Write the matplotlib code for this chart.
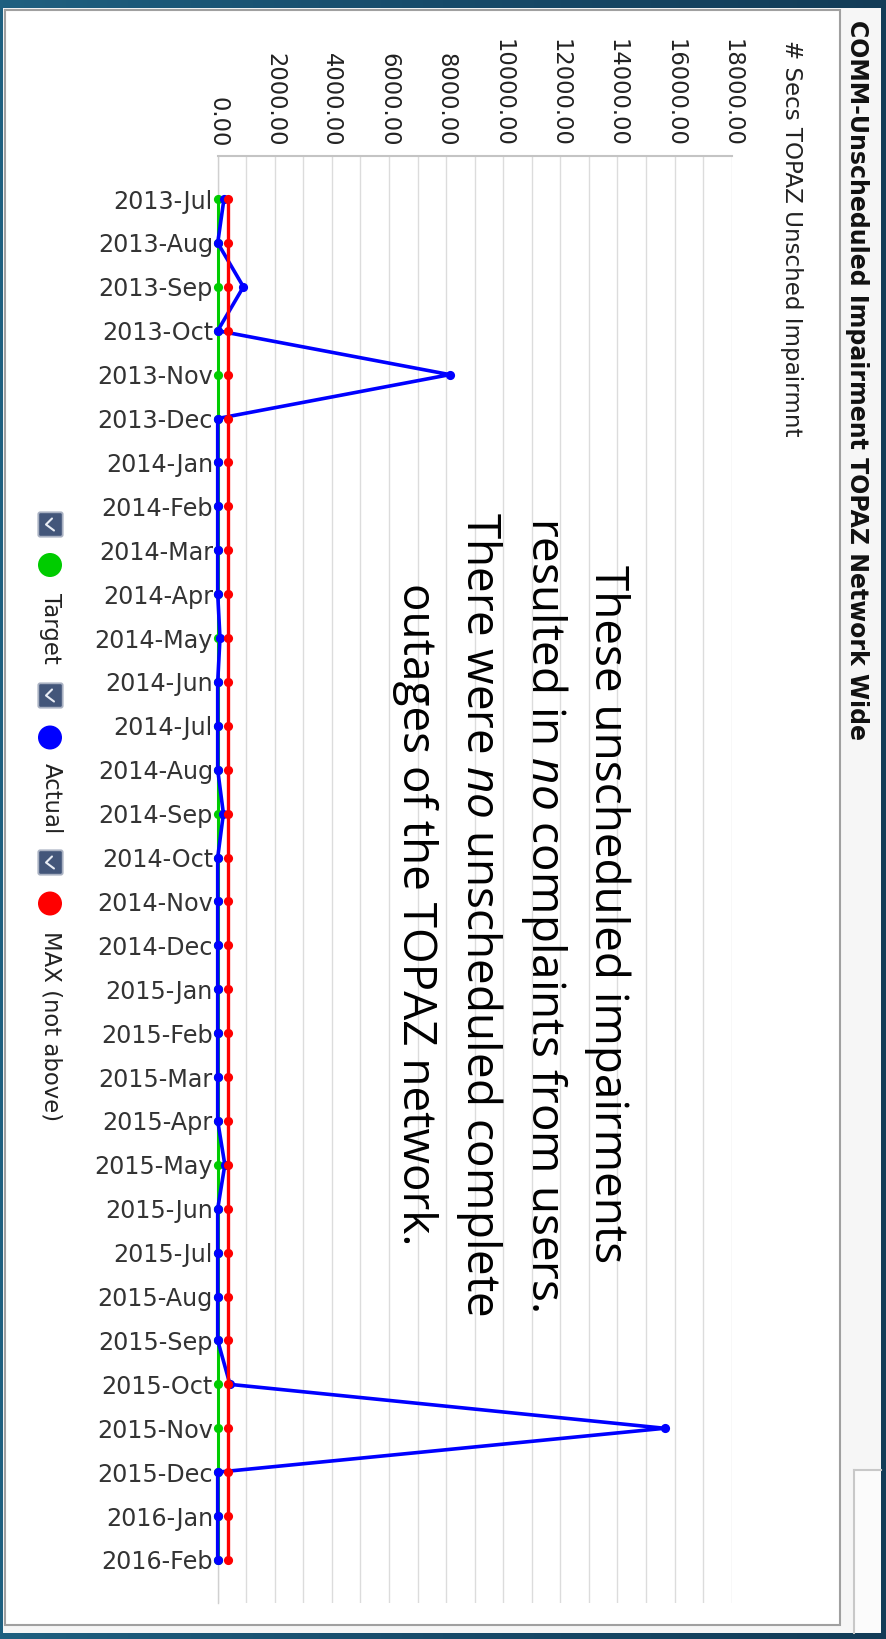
import matplotlib
matplotlib.use("Agg")
import matplotlib.pyplot as plt
import numpy as np
from matplotlib.patches import Rectangle, Circle, FancyBboxPatch
from matplotlib.colors import LinearSegmentedColormap
from matplotlib.ticker import FixedLocator, MultipleLocator

plt.rcParams['font.family'] = ['DejaVu Sans']
plt.rcParams['mathtext.fontset'] = 'custom'
plt.rcParams['mathtext.rm'] = 'Open Sans'
plt.rcParams['mathtext.it'] = 'Open Sans:italic'

# ---------------- data ----------------
months = ["2013-Jul", "2013-Aug", "2013-Sep", "2013-Oct", "2013-Nov", "2013-Dec",
          "2014-Jan", "2014-Feb", "2014-Mar", "2014-Apr", "2014-May", "2014-Jun",
          "2014-Jul", "2014-Aug", "2014-Sep", "2014-Oct", "2014-Nov", "2014-Dec",
          "2015-Jan", "2015-Feb", "2015-Mar", "2015-Apr", "2015-May", "2015-Jun",
          "2015-Jul", "2015-Aug", "2015-Sep", "2015-Oct", "2015-Nov", "2015-Dec",
          "2016-Jan", "2016-Feb"]
target = [0, 0, 0, 0, 0, 0, 0, 0, 0, 0, 0, 0, 0, 0, 0, 0,
          0, 0, 0, 0, 0, 0, 0, 0, 0, 0, 0, 0, 0, 0, 0, 0]
actual = [220, 0, 900, 0, 8130, 0, 0, 0, 0, 0, 80, 0, 0, 0, 200, 0,
          0, 0, 0, 0, 0, 0, 250, 0, 0, 0, 0, 430, 15650, 0, 0, 0]
max_not_above = [350, 350, 350, 350, 350, 350, 350, 350, 350, 350, 350, 350, 350, 350, 350, 350,
                 350, 350, 350, 350, 350, 350, 350, 350, 350, 350, 350, 350, 350, 350, 350, 350]
value_ticks = [0, 2000, 4000, 6000, 8000, 10000, 12000, 14000, 16000, 18000]
value_tick_labels = ["0.00", "2000.00", "4000.00", "6000.00", "8000.00", "10000.00",
                     "12000.00", "14000.00", "16000.00", "18000.00"]
series_names = ["Target", "Actual", "MAX (not above)"]
series_colors = ["#00cc00", "#0000ff", "#ff0000"]

title = "COMM-Unscheduled Impairment TOPAZ Network Wide"
value_label = "# Secs TOPAZ Unsched Impairmnt"
note_lines = ["These unscheduled impairments",
              r"resulted in $\mathit{no}$ complaints from users.",
              r"There were $\mathit{no}$ unscheduled complete",
              "outages of the TOPAZ network."]

# ---------------- figure ----------------
W, H = 887, 1639
fig = plt.figure(figsize=(W / 100, H / 100), dpi=100)


def fx(x):
    return x / W


def fy(y):
    return 1 - y / H


# background layer in pixel coordinates
bg = fig.add_axes([0, 0, 1, 1], zorder=-10)
bg.set_xlim(0, W)
bg.set_ylim(H, 0)
bg.axis("off")
cmap = LinearSegmentedColormap.from_list("band", ["#1f6080", "#184b6a", "#133c57"])
bg.imshow(np.linspace(0, 1, 256).reshape(1, -1), extent=(0, W, H, 0), aspect="auto", cmap=cmap)
bg.add_patch(Rectangle((3, 8), 878, 1625, fc="#f6f6f6", ec="none"))
bg.add_patch(Rectangle((5, 10), 835, 1615, fc="white", ec="#a0a0a0", lw=1.5))
# partially visible neighbouring box at bottom right
bg.add_patch(Rectangle((854, 1470), 27, 163, fc="#fbfbfb", ec="none"))
bg.plot([854, 854], [1633, 1470], color="#c8c8c8", lw=1.5)
bg.plot([854, 881], [1470, 1470], color="#c8c8c8", lw=1.5)

# legend (rotated)
legend_box_y = [524.5, 695.5, 862.5]
legend_dot_y = [565, 737.5, 903.5]
legend_text_y = [593, 763, 931]
for by, dy, ty, name, col in zip(legend_box_y, legend_dot_y, legend_text_y,
                                  series_names, series_colors):
    bg.add_patch(FancyBboxPatch((39.5, by - 11), 22, 22,
                                boxstyle="round,pad=1.2,rounding_size=2",
                                fc="#43567a", ec="#a9b1c2", lw=1.3))
    bg.plot([52, 46, 54], [by - 6, by, by + 6], color="#e8ecf4", lw=1.5,
            solid_capstyle="round")
    bg.add_patch(Circle((50, dy), 12, fc=col, ec="none"))
    fig.text(fx(51), fy(ty), name, rotation=-90, rotation_mode="anchor",
             ha="left", va="center", fontsize=16.4, color="#222222")

# title and value-axis label
fig.text(fx(850), fy(20), title, rotation=-90, rotation_mode="anchor",
         ha="left", va="baseline", fontsize=17, fontweight="bold", color="#111111")
fig.text(fx(785), fy(40), value_label, rotation=-90, rotation_mode="anchor",
         ha="left", va="baseline", fontsize=16.6, color="#222222")

# ---------------- chart axes ----------------
left, right, top, bottom = 217.7, 731.7, 156, 1603
ax = fig.add_axes([fx(left), fy(bottom), (right - left) / W, (bottom - top) / H])
ax.set_facecolor("none")
n = len(months)
ypos = np.arange(n)
ax.set_xlim(value_ticks[0], value_ticks[-1])
ax.set_ylim(n - 1 + 0.98, -0.98)

ax.xaxis.tick_top()
ax.xaxis.set_major_locator(FixedLocator(value_ticks))
ax.set_xticklabels(value_tick_labels)
ax.xaxis.set_minor_locator(MultipleLocator(1000))
ax.tick_params(axis="x", which="both", length=0, pad=6.5, labelsize=16.3,
               labelcolor="#222222", labelrotation=-90)
ax.set_yticks(ypos)
ax.set_yticklabels(months)
ax.tick_params(axis="y", length=0, pad=3.4, labelsize=17.2, labelcolor="#333333")
ax.grid(True, axis="x", which="both", color="#dcdcdc", lw=1.0)
ax.set_axisbelow(True)
for s in ["right", "bottom"]:
    ax.spines[s].set_visible(False)
ax.spines["top"].set_color("#c4c4c4")
ax.spines["top"].set_linewidth(1.5)
ax.spines["left"].set_color("#d0d0d0")
ax.spines["left"].set_linewidth(1.0)

series = [target, actual, max_not_above]
widths = [2.2, 2.6, 2.4]
for vals, col, lw, z in zip(series, series_colors, widths, [3, 4, 5]):
    ax.plot(vals, ypos, color=col, lw=lw, marker="o", markersize=6.6,
            markeredgewidth=0, zorder=z, clip_on=False)

# annotation text
note_baselines = [595, 531.7, 467, 403]
for xb, line in zip(note_baselines, note_lines):
    fig.text(fx(xb), fy(914), line, rotation=-90, rotation_mode="anchor",
             ha="center", va="baseline", fontsize=33, family="Open Sans",
             color="black")

fig.savefig("out.png", dpi=100)
